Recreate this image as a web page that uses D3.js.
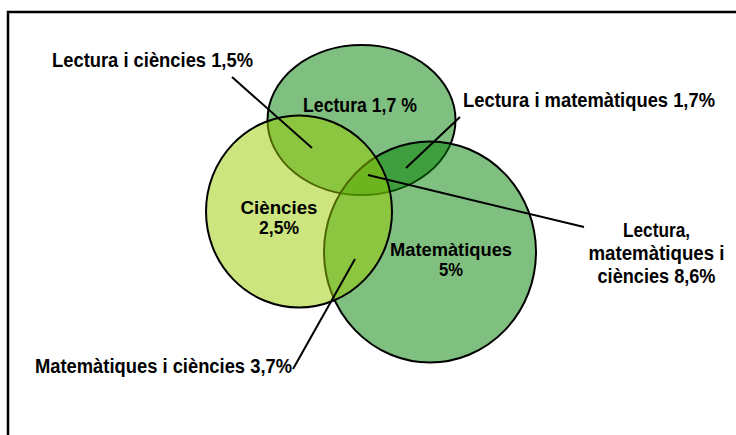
<!DOCTYPE html>
<html>
<head>
<meta charset="utf-8">
<script src="https://cdn.jsdelivr.net/npm/d3@7"></script>
<style>
  body { margin: 0; background: #fff; }
  svg { display: block; }
  text { font-family: "Liberation Sans Narrow", "Arial Narrow", "Liberation Sans", Arial, sans-serif; font-weight: bold; }
</style>
</head>
<body>
<svg id="chart"></svg>
<script>
// subjects (sets) and the share of students in each region of the diagram
const subjects = ["Lectura", "Matemàtiques", "Ciències"];
const onlyValues = [1.7, 5, 2.5];
const pairNames = ["Lectura i ciències", "Lectura i matemàtiques", "Matemàtiques i ciències"];
const pairValues = [1.5, 1.7, 3.7];
const tripleName = "Lectura, matemàtiques i ciències";
const tripleValue = 8.6;

const width = 736;
const height = 435;

const svg = d3.select("#chart").attr("width", width).attr("height", height);

// catalan number format: decimal comma
const locale = d3.formatLocale({ decimal: ",", thousands: ".", grouping: [3], currency: ["", " €"] });
const fmt = locale.format("~g");

// layout space -> pixels
const x = d3.scaleLinear().domain([0, 736]).range([0, width]);
const y = d3.scaleLinear().domain([0, 435]).range([0, height]);

// ellipse layout for each subject (same order as subjects)
const shapes = [
  { cx: 361.5, cy: 120, rx: 94, ry: 75, fill: "rgba(0,128,0,0.5)" },
  { cx: 430, cy: 252, rx: 106, ry: 110.5, fill: "rgba(0,128,0,0.5)" },
  { cx: 299, cy: 211.5, rx: 93, ry: 96, fill: "rgba(153,204,0,0.5)" },
];

// frame (only left and top edges fall inside the picture)
svg.append("rect")
  .attr("x", 8).attr("y", 12)
  .attr("width", width + 20).attr("height", height + 20)
  .attr("fill", "none")
  .attr("stroke", "#000")
  .attr("stroke-width", 2.5);

// draw the sets
svg.append("g")
  .selectAll("ellipse")
  .data(subjects)
  .join("ellipse")
  .attr("cx", (d, i) => x(shapes[i].cx))
  .attr("cy", (d, i) => y(shapes[i].cy))
  .attr("rx", (d, i) => x(shapes[i].rx))
  .attr("ry", (d, i) => y(shapes[i].ry))
  .attr("fill", (d, i) => shapes[i].fill)
  .attr("stroke", "#000")
  .attr("stroke-width", 2);

// leader lines for the overlap labels: pairs first, then the triple
const leaders = [
  { x1: 232, y1: 77, x2: 312, y2: 148 },
  { x1: 460, y1: 117, x2: 406, y2: 168 },
  { x1: 355, y1: 259, x2: 293, y2: 369 },
  { x1: 368, y1: 175, x2: 584, y2: 227 },
];

svg.append("g")
  .attr("stroke", "#000")
  .attr("stroke-width", 2)
  .selectAll("line")
  .data(leaders)
  .join("line")
  .attr("x1", (d) => x(d.x1))
  .attr("y1", (d) => y(d.y1))
  .attr("x2", (d) => x(d.x2))
  .attr("y2", (d) => y(d.y2));

// label texts, built from the data
const labelLines = [
  [subjects[0] + " " + fmt(onlyValues[0]) + " %"],
  [subjects[1], fmt(onlyValues[1]) + "%"],
  [subjects[2], fmt(onlyValues[2]) + "%"],
  [pairNames[0] + " " + fmt(pairValues[0]) + "%"],
  [pairNames[1] + " " + fmt(pairValues[1]) + "%"],
  [pairNames[2] + " " + fmt(pairValues[2]) + "%"],
  ["Lectura,", "matemàtiques i", "ciències " + fmt(tripleValue) + "%"],
];

// label placement: centre x, first baseline, line step, font size, width of each line
const labelPos = [
  { cx: 360, y: 111.5, step: 0, fs: 19.5, w: [114] },
  { cx: 451, y: 255.5, step: 20, fs: 17.5, w: [122, 24] },
  { cx: 279, y: 213.5, step: 20, fs: 17.5, w: [77, 40] },
  { cx: 152.5, y: 67, step: 0, fs: 19.5, w: [201] },
  { cx: 589, y: 107, step: 0, fs: 19.5, w: [252] },
  { cx: 163.5, y: 373, step: 0, fs: 19.5, w: [257] },
  { cx: 656.5, y: 237, step: 23, fs: 19.5, w: [67, 136, 118] },
];

const labels = svg.append("g")
  .attr("fill", "#000")
  .attr("text-anchor", "middle");

// one text per label, one tspan per line
labels.selectAll("text")
  .data(labelLines)
  .join("text")
  .attr("font-size", (d, i) => labelPos[i].fs)
  .each(function (lines, i) {
    const p = labelPos[i];
    d3.select(this)
      .selectAll("tspan")
      .data(lines)
      .join("tspan")
      .attr("x", x(p.cx))
      .attr("y", (d, j) => y(p.y + j * p.step))
      .attr("textLength", (d, j) => p.w[j])
      .attr("lengthAdjust", "spacingAndGlyphs")
      .text((d) => d);
  });
</script>
</body>
</html>
